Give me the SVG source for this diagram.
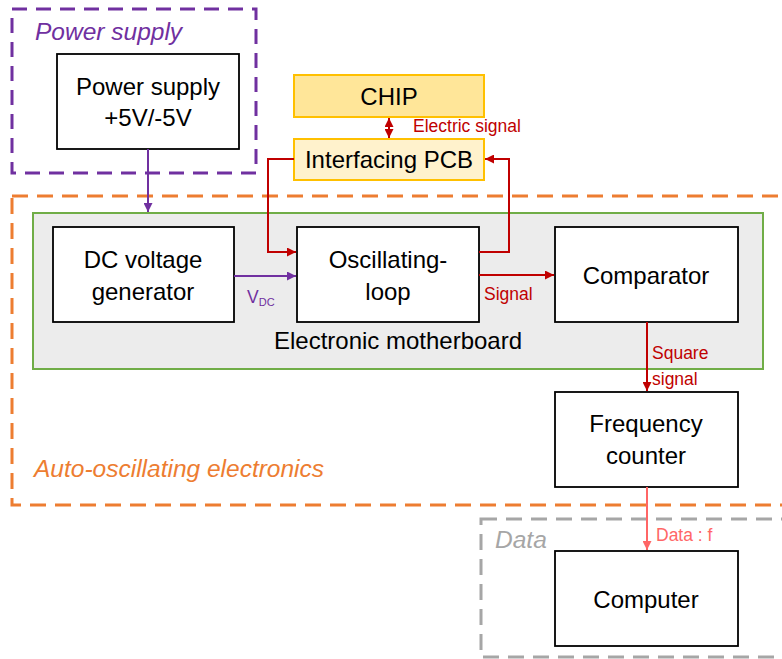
<svg xmlns="http://www.w3.org/2000/svg" width="782" height="659" viewBox="0 0 782 659">
<style>
.node{fill:#fff;stroke:#000;stroke-width:1.8}
.t{font-family:"Liberation Sans",Arial,sans-serif;font-size:24px;fill:#000;text-anchor:middle}
.lbl{font-family:"Liberation Sans",Arial,sans-serif;font-size:17.5px}
.grp{font-family:"Liberation Sans",Arial,sans-serif;font-size:24.5px;font-style:italic}
.red{stroke:#c00000;stroke-width:2;fill:none}
.pur{stroke:#7030a0;stroke-width:2;fill:none}
</style>
<defs>
<marker id="ar" viewBox="0 0 10 10" refX="10" refY="5" markerUnits="userSpaceOnUse" markerWidth="9" markerHeight="9" orient="auto-start-reverse"><path d="M0,0L10,5L0,10z" fill="#c00000"/></marker>
<marker id="ap" viewBox="0 0 10 10" refX="10" refY="5" markerUnits="userSpaceOnUse" markerWidth="9" markerHeight="9" orient="auto"><path d="M0,0L10,5L0,10z" fill="#7030a0"/></marker>
<marker id="ak" viewBox="0 0 10 10" refX="10" refY="5" markerUnits="userSpaceOnUse" markerWidth="9" markerHeight="9" orient="auto"><path d="M0,0L10,5L0,10z" fill="#ff6666"/></marker>
</defs>
<rect width="782" height="659" fill="#fff"/>

<g id="group-power">
<rect x="12" y="9" width="244" height="164" fill="none" stroke="#7030a0" stroke-width="3" stroke-dasharray="15 9"/>
<text class="grp" x="35" y="40" fill="#7030a0">Power supply</text>
</g>
<g id="group-auto">
<rect x="12" y="196" width="800" height="309" fill="none" stroke="#ed7d31" stroke-width="3" stroke-dasharray="16 9"/>
<text class="grp" x="34" y="477" fill="#ed7d31">Auto-oscillating electronics</text>
</g>
<g id="group-data">
<rect x="481" y="519" width="340" height="138" fill="none" stroke="#a6a6a6" stroke-width="3" stroke-dasharray="16 9"/>
<text class="grp" x="495" y="548" fill="#a6a6a6">Data</text>
</g>
<g id="motherboard">
<rect x="33" y="213" width="730" height="156" fill="#ececec" stroke="#70ad47" stroke-width="2"/>
<text class="t" x="398" y="349">Electronic motherboard</text>
</g>

<g id="power-supply">
<rect class="node" x="57" y="54" width="182" height="95"/>
<text class="t" x="148" y="95">Power supply</text>
<text class="t" x="148" y="126">+5V/-5V</text>
</g>
<g id="chip">
<rect x="294" y="75" width="190" height="42" fill="#ffe699" stroke="#ffc000" stroke-width="2"/>
<text class="t" x="389" y="105">CHIP</text>
</g>
<g id="pcb">
<rect x="294" y="139" width="190" height="41" fill="#fff2cc" stroke="#ffc000" stroke-width="2"/>
<text class="t" x="389" y="168">Interfacing PCB</text>
</g>
<g id="dc-gen">
<rect class="node" x="53" y="227" width="181" height="95"/>
<text class="t" x="143" y="268">DC voltage</text>
<text class="t" x="143" y="300">generator</text>
</g>
<g id="osc-loop">
<rect class="node" x="297" y="227" width="182" height="95"/>
<text class="t" x="388" y="268">Oscillating-</text>
<text class="t" x="388" y="300">loop</text>
</g>
<g id="comparator">
<rect class="node" x="555" y="227" width="183" height="95"/>
<text class="t" x="646" y="284">Comparator</text>
</g>
<g id="freq-counter">
<rect class="node" x="555" y="392" width="183" height="95"/>
<text class="t" x="646" y="432">Frequency</text>
<text class="t" x="646" y="464">counter</text>
</g>
<g id="computer">
<rect class="node" x="555" y="551" width="183" height="95"/>
<text class="t" x="646" y="608">Computer</text>
</g>

<g id="connectors">
<path class="pur" d="M148,149V212" marker-end="url(#ap)"/>
<path class="pur" d="M234,276H296" marker-end="url(#ap)"/>
<text class="lbl" x="247" y="303" fill="#7030a0">V<tspan font-size="11" dy="3">DC</tspan></text>
<path class="red" d="M389,118V138" marker-start="url(#ar)" marker-end="url(#ar)"/>
<text class="lbl" x="413" y="132" fill="#c00000">Electric signal</text>
<path class="red" d="M294,159H268V252H296" marker-end="url(#ar)"/>
<path class="red" d="M479,252H509V159H485" marker-end="url(#ar)"/>
<path class="red" d="M479,275H554" marker-end="url(#ar)"/>
<text class="lbl" x="484" y="300" fill="#c00000">Signal</text>
<path class="red" d="M647,322V391" marker-end="url(#ar)"/>
<text class="lbl" x="652" y="359" fill="#c00000">Square</text>
<text class="lbl" x="652" y="385" fill="#c00000">signal</text>
<path d="M647,487V550" stroke="#ff6666" stroke-width="2" fill="none" marker-end="url(#ak)"/>
<text class="lbl" x="656" y="541" fill="#ff6666">Data : f</text>
</g>
</svg>
